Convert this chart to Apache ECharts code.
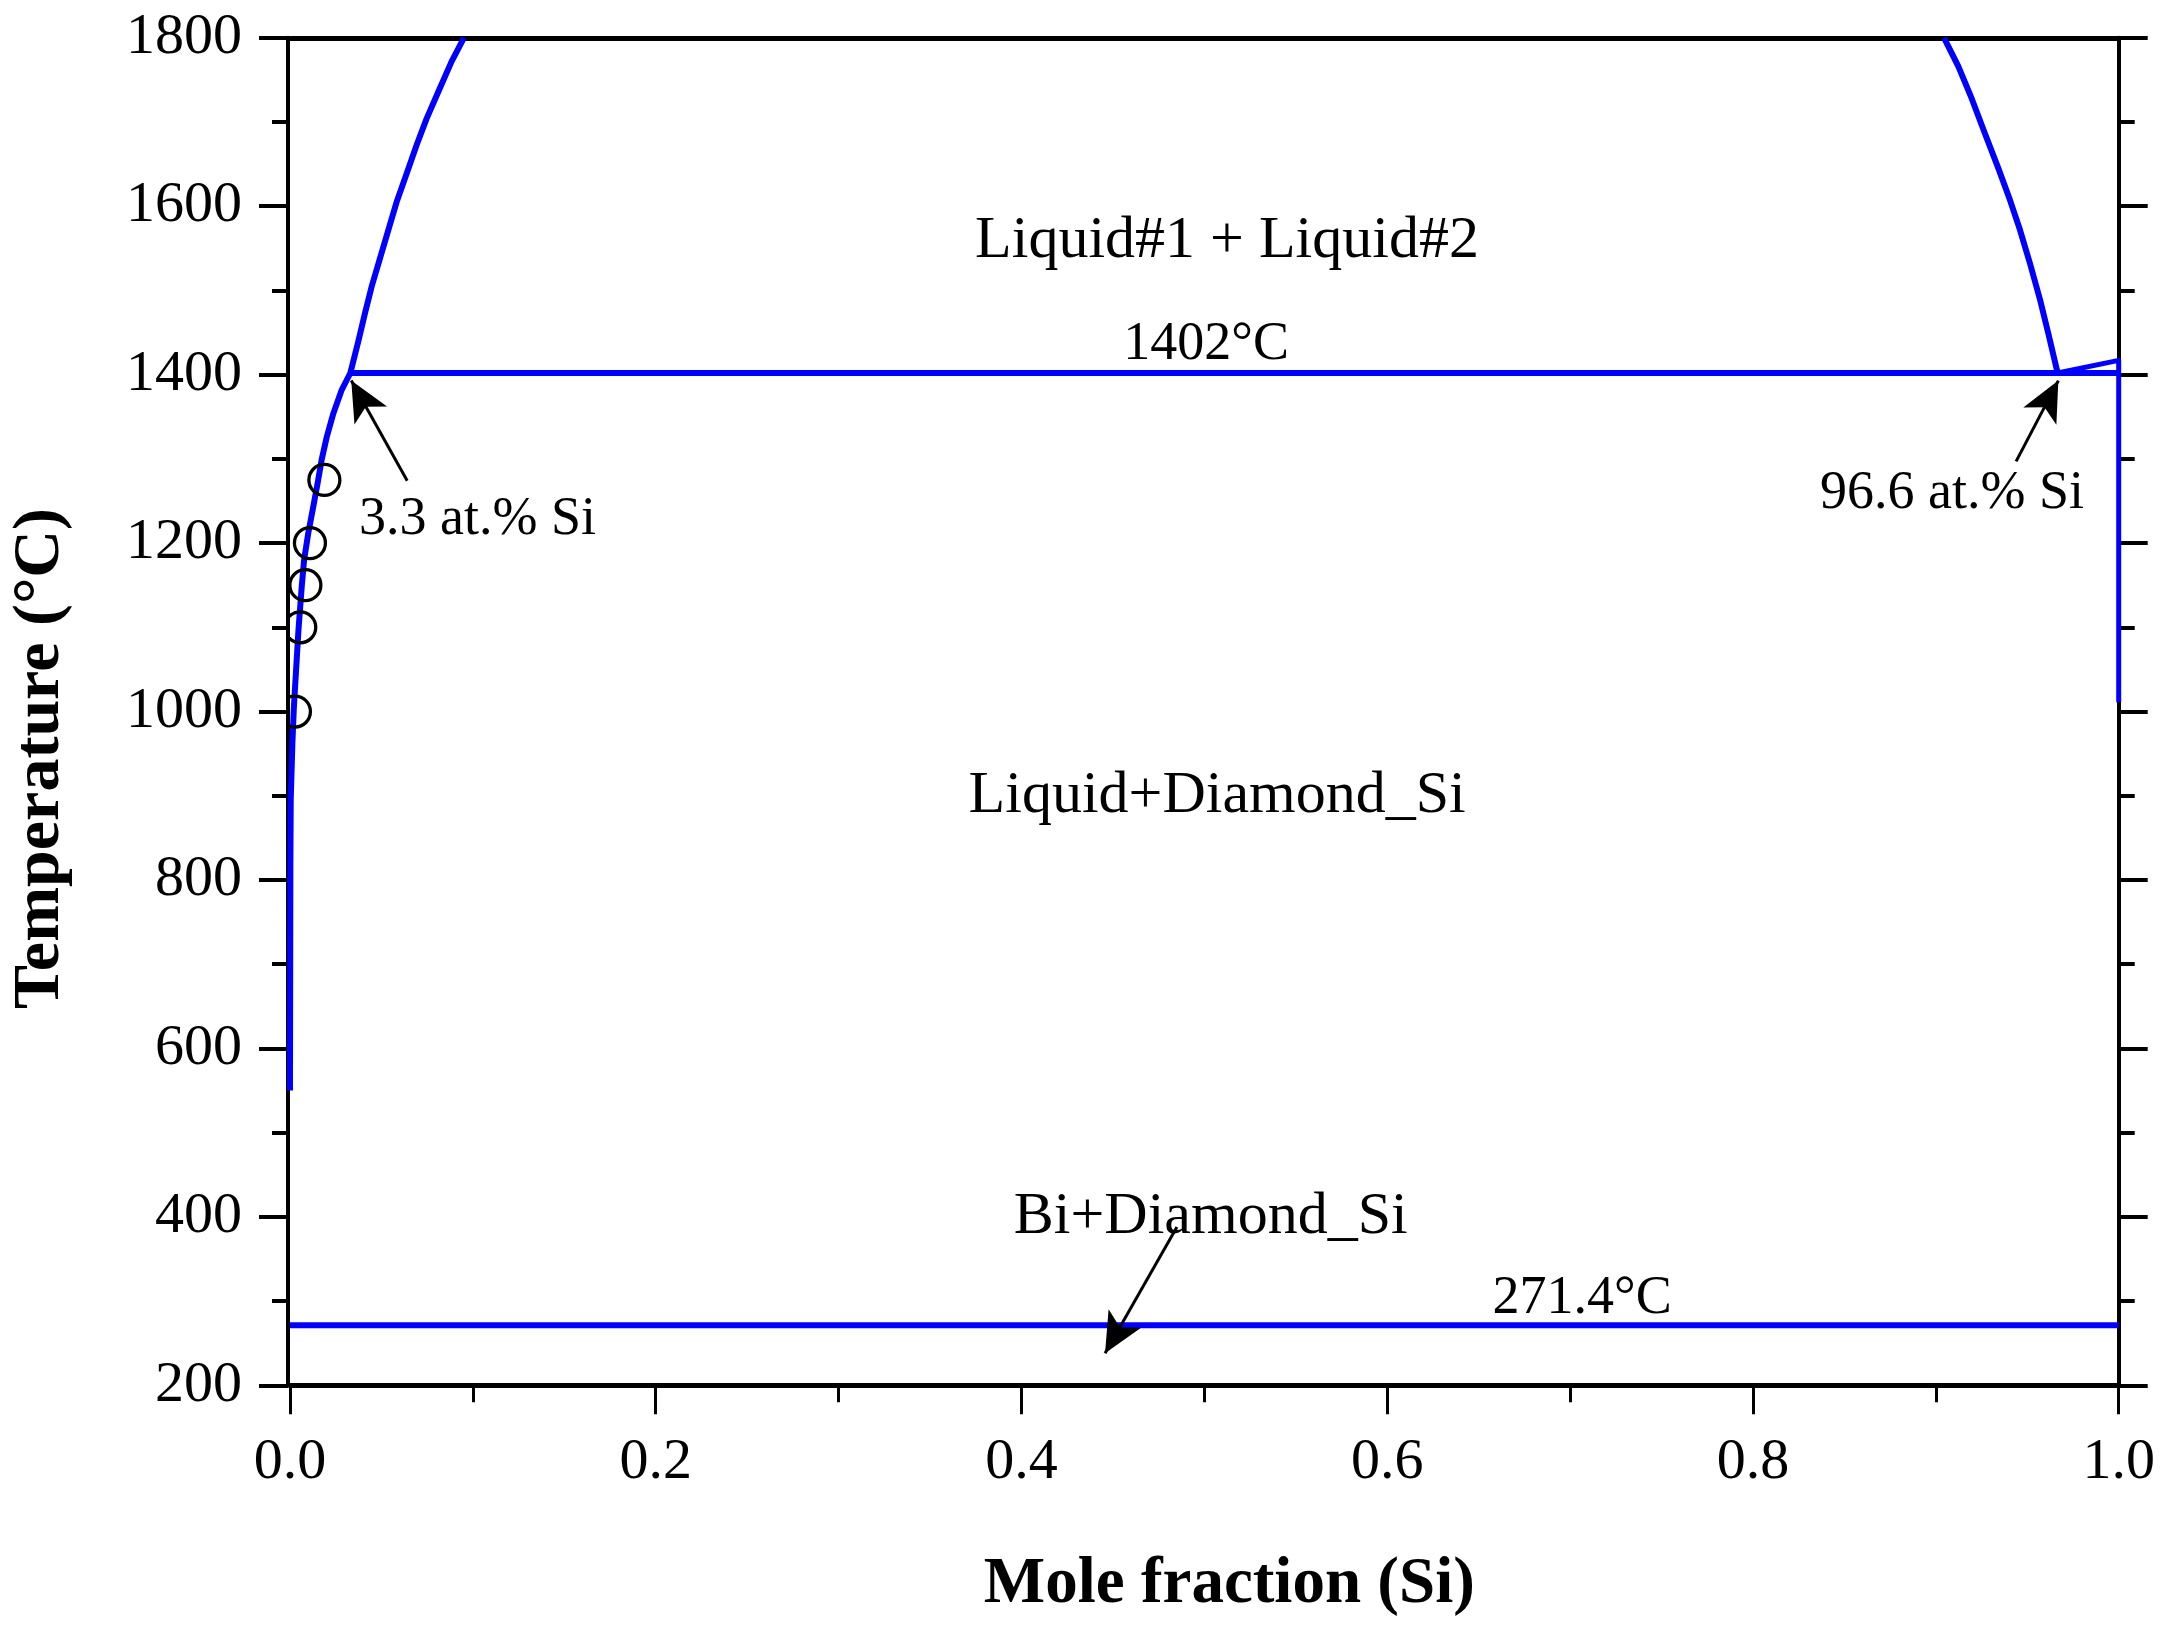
<!DOCTYPE html>
<html>
<head>
<meta charset="utf-8">
<title>Bi-Si phase diagram</title>
<script src="https://cdn.jsdelivr.net/npm/echarts@6/dist/echarts.min.js"></script>
<style>
html, body { margin: 0; padding: 0; background: #fff; }
#chart { width: 2166px; height: 1629px; }
</style>
</head>
<body>
<div id="chart"></div>
<script>
// 读图得到的数据
var leftLiquidusX = [0, 0.0002, 0.0004, 0.0013, 0.0021, 0.0046, 0.0064, 0.0077, 0.01, 0.0127, 0.0151, 0.0173, 0.0201, 0.0237, 0.0283, 0.033, 0.0373, 0.041, 0.0447, 0.0492, 0.0538, 0.0583, 0.0638, 0.0693, 0.0747, 0.0811, 0.0884, 0.0951];
var leftLiquidusT = [550, 813, 895, 962, 1004, 1096, 1148, 1180, 1212, 1243, 1271, 1299, 1326, 1354, 1382, 1402, 1439, 1473, 1505, 1538, 1572, 1605, 1639, 1673, 1704, 1736, 1772, 1800];
var rightLiquidusX = [0.9045, 0.9123, 0.9196, 0.9269, 0.9342, 0.9406, 0.946, 0.9515, 0.957, 0.9615, 0.9666];
var rightLiquidusT = [1800, 1766, 1728, 1686, 1645, 1607, 1572, 1532, 1489, 1449, 1402];
var monotecticX = [0.033, 0.9666, 1];
var monotecticT = [1402, 1402, 1402];
var siSolidusX = [0.9666, 1, 1];
var siSolidusT = [1402, 1417, 1011];
var eutecticX = [0, 1];
var eutecticT = [271.4, 271.4];
var expX = [0.0027, 0.0056, 0.0084, 0.0109, 0.0188];
var expT = [1000, 1100, 1150, 1200, 1275];

var labelTexts = ['Liquid#1 + Liquid#2', 'Liquid+Diamond_Si', 'Bi+Diamond_Si'];
var labelX = [0.5124, 0.507, 0.5035];
var labelT = [1559, 899, 400];
var noteTexts = ['1402°C', '3.3 at.% Si', '96.6 at.% Si', '271.4°C'];
var noteX = [0.501, 0.1025, 0.9088, 0.7066];
var noteT = [1436, 1228, 1258, 303];
var arrowFrom = [[0.0641, 1274], [0.9439, 1297], [0.485, 388]];
var arrowTo = [[0.0335, 1393], [0.967, 1393], [0.4457, 238]];

var FONT = '"Liberation Serif", "Times New Roman", serif';

function zip(xs, ys) {
	return xs.map(function(x, i) {
		return [x, ys[i]];
	});
}

function curve(xs, ys, width) {
	return {
		type: 'line',
		data: zip(xs, ys),
		showSymbol: false,
		silent: true,
		animation: false,
		z: 3,
		lineStyle: { color: '#0000ff', width: width, join: 'round' }
	};
}

function textSeries(texts, xs, ys, size) {
	return {
		type: 'scatter',
		data: zip(xs, ys),
		symbolSize: 1,
		silent: true,
		animation: false,
		clip: false,
		z: 6,
		itemStyle: { color: 'transparent', opacity: 1 },
		label: {
			show: true,
			position: 'inside',
			fontFamily: FONT,
			fontSize: size,
			color: '#000',
			formatter: function(p) {
				return texts[p.dataIndex];
			}
		}
	};
}

var charts = echarts.init(document.getElementById('chart'));

var options = {
	backgroundColor: '#fff',
	animation: false,
	grid: { left: 290, top: 37.8, width: 1828.7, height: 1347.5, containLabel: false, outerBoundsMode: 'none' },
	xAxis: [{
		type: 'value',
		position: 'bottom',
		min: 0,
		max: 1,
		interval: 0.2,
		name: 'Mole fraction (Si)',
		nameLocation: 'middle',
		nameGap: 167,
		nameTextStyle: { fontFamily: FONT, fontSize: 65, fontWeight: 'bold', color: '#000', padding: [0, 0, 0, 50] },
		axisLine: { onZero: false, lineStyle: { color: '#000', width: 5 } },
		axisTick: { length: 29, lineStyle: { color: '#000', width: 3 } },
		minorTick: { show: true, splitNumber: 2, length: 17, lineStyle: { color: '#000', width: 3 } },
		splitLine: { show: false },
		axisLabel: {
			margin: 48,
			fontFamily: FONT,
			fontSize: 58,
			color: '#000',
			showMinLabel: true,
			showMaxLabel: true,
			formatter: function(v) { return v.toFixed(1); }
		}
	}, {
		type: 'value',
		position: 'top',
		min: 0,
		max: 1,
		interval: 0.2,
		axisLine: { onZero: false, lineStyle: { color: '#000', width: 5 } },
		axisTick: { show: false },
		axisLabel: { show: false },
		splitLine: { show: false }
	}],
	yAxis: [{
		type: 'value',
		position: 'left',
		offset: 2,
		min: 200,
		max: 1800,
		interval: 200,
		name: 'Temperature (°C)',
		nameLocation: 'middle',
		nameGap: 214,
		nameTextStyle: { fontFamily: FONT, fontSize: 66, fontWeight: 'bold', color: '#000', padding: [0, 94, 0, 0] },
		axisLine: { onZero: false, lineStyle: { color: '#000', width: 4 } },
		axisTick: { length: 29, lineStyle: { color: '#000', width: 4 } },
		minorTick: { show: true, splitNumber: 2, length: 16, lineStyle: { color: '#000', width: 4 } },
		splitLine: { show: false },
		axisLabel: {
			margin: 46,
			padding: [8, 0, 0, 0],
			fontFamily: FONT,
			fontSize: 58,
			color: '#000',
			showMinLabel: true,
			showMaxLabel: true,
			formatter: function(v) { return String(v); }
		}
	}, {
		type: 'value',
		position: 'right',
		min: 200,
		max: 1800,
		interval: 200,
		axisLine: { onZero: false, lineStyle: { color: '#000', width: 4 } },
		axisTick: { length: 29, lineStyle: { color: '#000', width: 4 } },
		minorTick: { show: true, splitNumber: 2, length: 16, lineStyle: { color: '#000', width: 4 } },
		axisLabel: { show: false },
		splitLine: { show: false }
	}],
	series: [
		curve(leftLiquidusX, leftLiquidusT, 6),
		curve(rightLiquidusX, rightLiquidusT, 6),
		curve(monotecticX, monotecticT, 6),
		curve(siSolidusX, siSolidusT, 5),
		curve(eutecticX, eutecticT, 6),
		{
			// 空心圆实验点，用 custom 才能被坐标系裁剪
			type: 'custom',
			data: zip(expX, expT),
			clip: true,
			silent: true,
			animation: false,
			z: 4,
			renderItem: function(params, api) {
				var p = api.coord([api.value(0), api.value(1)]);
				return {
					type: 'circle',
					shape: { cx: p[0], cy: p[1], r: 15.5 },
					style: { fill: 'none', stroke: '#000', lineWidth: 3.3 }
				};
			}
		},
		textSeries(labelTexts, labelX, labelT, 60),
		textSeries(noteTexts, noteX, noteT, 54),
		{
			type: 'line',
			data: [],
			silent: true,
			animation: false,
			z: 5,
			markLine: {
				silent: true,
				animation: false,
				symbol: ['none', 'arrow'],
				symbolSize: [28, 40],
				label: { show: false },
				lineStyle: { color: '#000', width: 3, type: 'solid' },
				itemStyle: { color: '#000' },
				data: arrowFrom.map(function(p, i) {
					return [{ coord: p }, { coord: arrowTo[i] }];
				})
			}
		}
	]
};

charts.setOption(options, true);
</script>
</body>
</html>
